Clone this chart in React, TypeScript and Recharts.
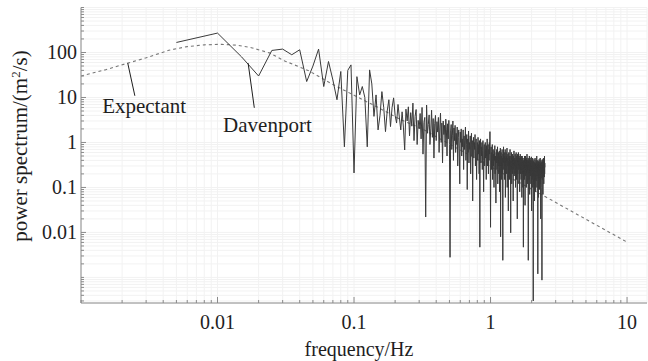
import { CartesianGrid, Line, LineChart, ReferenceDot, ReferenceLine, XAxis, YAxis } from 'recharts'

// measured spectrum: one value per FFT bin, bins spaced DF apart starting at DF
const DF = 0.005
const davenportValues = [
  167, 270, 80, 30, 111, 119, 89, 115, 22.6, 50,
  119, 17.5, 63, 24.5, 8.9, 37.8, 0.8, 40, 53, 0.21,
  29, 11.4, 17.5, 10, 0.8, 41, 20, 3.8, 11.4, 1.9,
  4, 13.5, 6, 1.74, 5, 8.9, 2.25, 6, 9.8, 4,
  2.7, 7, 3.5, 1.9, 4.8, 2.2, 0.68, 5.5, 3, 6.2,
  1.4, 4.6, 2.3, 7.5, 1.1, 3.8, 5.4, 0.9, 3.1, 2.0,
  4.4, 1.2, 6.0, 0.55, 2.8, 3.6, 0.022, 6.8, 1.6, 2.5,
  4.1, 0.9, 2.0, 5.2, 1.3, 3.4, 0.45, 2.6, 4.0, 1.1,
  2.9, 1.7, 3.6, 0.6, 2.2, 4.5, 1.0, 2.7, 0.35, 3.0,
  1.5, 2.4, 0.8, 3.3, 1.9, 0.5, 2.6, 1.2, 3.1, 0.9,
  0.0028, 1.8, 2.5, 0.7, 1.4, 3.0, 0.4, 2.1, 1.1, 2.4,
  0.6, 1.6, 0.9, 2.2, 0.3, 1.3, 1.9, 0.75, 0.12, 1.7,
  1.0, 2.0, 0.5, 1.2, 0.8, 1.9, 0.25, 1.4, 0.7, 1.1,
  2.2, 0.4, 0.9, 1.5, 0.09, 1.2, 0.6, 1.8, 0.35, 1.0,
  0.7, 1.4, 0.2, 0.9, 1.6, 0.5, 1.1, 0.05, 0.8, 1.3,
  0.45, 1.0, 0.7, 1.5, 0.3, 0.85, 1.2, 0.15, 0.6, 1.0,
  0.4, 1.3, 0.55, 0.9, 0.2, 1.1, 0.0047, 0.7, 1.2, 0.35,
  0.8, 0.5, 1.0, 0.25, 0.65, 1.1, 0.4, 0.08, 0.75, 0.9,
  0.3, 0.6, 1.0, 0.45, 0.7, 0.15, 0.85, 0.5, 1.2, 0.3,
  0.6, 0.9, 0.2, 0.7, 0.4, 1.0, 0.55, 1.74, 0.3, 0.013,
  0.5, 0.8, 0.25, 0.6, 0.35, 0.9, 0.15, 0.5, 0.7, 0.3,
  0.55, 0.1, 0.65, 0.4, 0.85, 0.2, 0.5, 0.3, 0.045, 0.6,
  0.35, 0.7, 0.25, 0.45, 0.8, 0.12, 0.5, 0.3, 0.6, 0.2,
  0.4, 0.65, 0.08, 0.5, 0.3, 0.75, 0.008, 0.45, 0.6, 0.15,
  0.5, 0.3, 0.7, 0.2, 0.45, 0.0024, 0.55, 0.35, 0.8, 0.25,
  0.4, 0.6, 0.15, 0.5, 0.3, 0.7, 0.06, 0.45, 0.35, 0.6,
  0.2, 0.5, 0.4, 0.75, 0.1, 0.45, 0.3, 0.55, 0.25, 0.03,
  0.4, 0.6, 0.2, 0.35, 0.5, 0.15, 0.45, 0.7, 0.3, 0.4,
  0.0098, 0.5, 0.25, 0.4, 0.6, 0.12, 0.35, 0.45, 0.2, 0.55,
  0.3, 0.4, 0.05, 0.5, 0.25, 0.35, 0.65, 0.18, 0.4, 0.3,
  0.45, 0.2, 0.55, 0.3, 0.1, 0.4, 0.25, 0.6, 0.35, 0.15,
  0.5, 0.28, 0.4, 0.02, 0.35, 0.55, 0.2, 0.45, 0.3, 0.6,
  0.25, 0.4, 0.12, 0.5, 0.3, 0.35, 0.08, 0.45, 0.25, 0.55,
  0.3, 0.2, 0.45, 0.35, 0.15, 0.5, 0.25, 0.4, 0.06, 0.35,
  0.5, 0.2, 0.3, 0.45, 0.1, 0.35, 0.25, 0.0047, 0.4, 0.3,
  0.2, 0.45, 0.3, 0.15, 0.5, 0.25, 0.35, 0.04, 0.4, 0.28,
  0.5, 0.18, 0.35, 0.25, 0.45, 0.1, 0.3, 0.4, 0.2, 0.55,
  0.3, 0.22, 0.4, 0.12, 0.35, 0.28, 0.45, 0.0024, 0.3, 0.38,
  0.2, 0.42, 0.15, 0.3, 0.5, 0.25, 0.07, 0.35, 0.22, 0.45,
  0.28, 0.18, 0.4, 0.3, 0.12, 0.36, 0.25, 0.48, 0.2, 0.03,
  0.35, 0.22, 0.4, 0.15, 0.3, 0.26, 0.45, 0.1, 0.32, 0.2,
  0.0003, 0.3, 0.38, 0.18, 0.28, 0.42, 0.12, 0.33, 0.24, 0.05,
  0.36, 0.2, 0.3, 0.45, 0.15, 0.27, 0.35, 0.08, 0.3, 0.22,
  0.4, 0.14, 0.28, 0.33, 0.2, 0.5, 0.1, 0.26, 0.35, 0.18,
  0.3, 0.24, 0.4, 0.0012, 0.28, 0.35, 0.16, 0.3, 0.06, 0.38,
  0.22, 0.3, 0.14, 0.42, 0.25, 0.32, 0.09, 0.28, 0.36, 0.2,
  0.3, 0.45, 0.12, 0.26, 0.34, 0.02, 0.3, 0.22, 0.4, 0.16,
  0.28, 0.36, 0.2, 0.32, 0.1, 0.00087, 0.3, 0.24, 0.42, 0.15,
  0.3, 0.26, 0.38, 0.07, 0.28, 0.34, 0.18, 0.45, 0.22, 0.3,
  0.12, 0.36, 0.25, 0.4, 0.17, 0.3, 0.5, 0.2, 0.35, 0.28,
]

// target (expectant) spectrum
const expectantFreq = [0.001, 0.0015, 0.0022, 0.003, 0.0044, 0.006, 0.008, 0.0107, 0.014, 0.0177, 0.024, 0.031, 0.046, 0.07, 0.1, 0.15, 0.22, 0.31, 0.5, 1, 1.5, 2.53, 5, 10.2]
const expectantValues = [30, 41, 58, 76, 112, 135, 148, 152, 145, 128, 98, 65, 40, 19.5, 11.2, 6, 3.2, 2.07, 0.92, 0.29, 0.147, 0.062, 0.0196, 0.0059]

const xDecades = [0.001, 0.01, 0.1, 1]
const yDecades = [0.0001, 0.001, 0.01, 0.1, 1, 10, 100]
const xLabels = [0.01, 0.1, 1, 10]
const yLabels = [0.01, 0.1, 1, 10, 100]
const xDomain = [0.001, 14]
const yDomain = [0.00027, 1000]

const davenport = davenportValues.map((v, i) => ({ f: (i + 1) * DF, v }))
const expectant = expectantFreq.map((f, i) => ({ f, v: expectantValues[i] }))

const mult = [1, 2, 3, 4, 5, 6, 7, 8, 9]
const xTicks = [...xDecades.flatMap((d) => mult.map((m) => m * d)), 10]
const yTicks = [...yDecades.flatMap((d) => mult.map((m) => m * d)), 1000].filter((t) => t >= yDomain[0])

const FONT = "'Liberation Serif', 'Times New Roman', serif"
const AXIS = '#8a8a8a'
const INK = '#1e1e1e'
const textStyle = { fontFamily: FONT, fontSize: 20, fill: INK }

const BottomTick = ({ x, y, payload }: any) => {
  const major = xLabels.includes(payload.value)
  return (
    <g>
      <line x1={x} y1={y} x2={x} y2={y - (major ? 6 : 3)} stroke={AXIS} />
      {major && (
        <text x={x} y={y + 26} textAnchor="middle" style={textStyle}>
          {payload.value}
        </text>
      )}
    </g>
  )
}

const TopTick = ({ x, y, payload }: any) => {
  const major = xLabels.includes(payload.value)
  return <line x1={x} y1={y} x2={x} y2={y + (major ? 6 : 3)} stroke={AXIS} />
}

const LeftTick = ({ x, y, payload }: any) => {
  const major = yLabels.includes(payload.value)
  return (
    <g>
      <line x1={x} y1={y} x2={x + (major ? 5 : 3)} y2={y} stroke={AXIS} />
      {major && (
        <text x={x - 4} y={y + 7} textAnchor="end" style={textStyle}>
          {payload.value}
        </text>
      )}
    </g>
  )
}

const RightTick = ({ x, y, payload }: any) => {
  const major = yLabels.includes(payload.value)
  return <line x1={x} y1={y} x2={x - (major ? 5 : 3)} y2={y} stroke={AXIS} />
}

const YTitle = () => (
  <text transform="translate(27,146) rotate(-90)" textAnchor="middle" style={{ ...textStyle, fontSize: 21 }}>
    power spectrum/(m<tspan dy={-7} style={{ fontSize: 13 }}>2</tspan>
    <tspan dy={7}>/s)</tspan>
  </text>
)

const XTitle = ({ viewBox }: any) => (
  <text x={viewBox.x + viewBox.width / 2 - 5} y={viewBox.y + viewBox.height - 5} textAnchor="middle" style={textStyle}>
    frequency/Hz
  </text>
)

const note = (label: string) => ({ viewBox }: any) => (
  <text
    x={viewBox.x + viewBox.width / 2}
    y={viewBox.y + viewBox.height / 2 + 7}
    textAnchor="middle"
    style={{ ...textStyle, fontSize: 21 }}
  >
    {label}
  </text>
)

export default function App() {
  return (
    <div style={{ position: 'absolute', left: 0, top: 0, width: 648, height: 361, background: '#fff', fontFamily: FONT }}>
      <LineChart width={648} height={361} margin={{ top: 7.5, right: 1, bottom: 0, left: 0 }}>
        <CartesianGrid stroke="#f2f2f2" />
        <XAxis
          dataKey="f"
          type="number"
          scale="log"
          domain={xDomain}
          allowDataOverflow
          ticks={xTicks}
          interval={0}
          tick={BottomTick}
          tickLine={false}
          tickSize={0}
          tickMargin={0}
          height={58}
          axisLine={{ stroke: AXIS }}
          label={{ content: XTitle }}
        />
        <XAxis
          xAxisId="top"
          orientation="top"
          type="number"
          scale="log"
          domain={xDomain}
          allowDataOverflow
          ticks={xTicks}
          interval={0}
          tick={TopTick}
          tickLine={false}
          tickSize={0}
          tickMargin={0}
          height={0}
          axisLine={{ stroke: AXIS }}
        />
        <YAxis
          type="number"
          scale="log"
          domain={yDomain}
          allowDataOverflow
          ticks={yTicks}
          interval={0}
          tick={LeftTick}
          tickLine={false}
          tickSize={0}
          tickMargin={0}
          width={81}
          axisLine={{ stroke: AXIS }}
          label={{ content: YTitle }}
        />
        <YAxis
          yAxisId="right"
          orientation="right"
          type="number"
          scale="log"
          domain={yDomain}
          allowDataOverflow
          ticks={yTicks}
          interval={0}
          tick={RightTick}
          tickLine={false}
          tickSize={0}
          tickMargin={0}
          width={0}
          axisLine={{ stroke: AXIS }}
        />
        <Line
          data={expectant}
          dataKey="v"
          type="linear"
          stroke="#777"
          strokeWidth={1.1}
          strokeDasharray="3 3"
          dot={false}
          isAnimationActive={false}
        />
        <Line
          data={davenport}
          dataKey="v"
          type="linear"
          stroke="#3a3a3a"
          strokeWidth={1}
          dot={false}
          isAnimationActive={false}
        />
        <ReferenceLine segment={[{ x: 0.0022, y: 58 }, { x: 0.00248, y: 10.9 }]} stroke={INK} strokeWidth={1} />
        <ReferenceLine segment={[{ x: 0.01676, y: 58 }, { x: 0.0186, y: 5.9 }]} stroke={INK} strokeWidth={1} />
        <ReferenceDot x={0.0029} y={6.3} r={0} fill="none" stroke="none" label={{ content: note('Expectant') }} />
        <ReferenceDot x={0.0232} y={2.45} r={0} fill="none" stroke="none" label={{ content: note('Davenport') }} />
      </LineChart>
    </div>
  )
}
